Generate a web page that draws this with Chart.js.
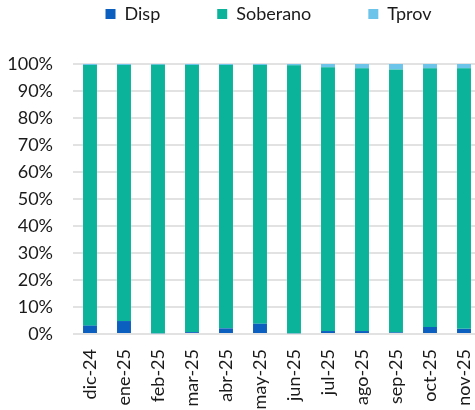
<!DOCTYPE html>
<html>
<head>
<meta charset="utf-8">
<script src="https://cdn.jsdelivr.net/npm/chart.js@4/dist/chart.umd.min.js"></script>
<style>
html,body{margin:0;padding:0;background:#fff;overflow:hidden;width:475px;height:410px;}
#wrap{position:absolute;left:0;top:0;width:481px;height:410px;}
</style>
</head>
<body>
<div id="wrap"><canvas id="c" width="481" height="410"></canvas></div>
<script>
const categories = ["dic-24","ene-25","feb-25","mar-25","abr-25","may-25","jun-25","jul-25","ago-25","sep-25","oct-25","nov-25"];
const disp  = [3.1, 4.8, 0.3, 0.7, 2.1, 3.8, 0.3, 1.1, 1.1, 0.6, 2.6, 1.9];
const tprov = [0.4, 0.4, 0.3, 0.4, 0.4, 0.4, 0.5, 1.2, 1.6, 2.0, 1.6, 1.6];
const soberano = disp.map((d, i) => +(100 - d - tprov[i]).toFixed(1));
const yTicks = [0,10,20,30,40,50,60,70,80,90,100];

const FONT = "Lato";
const LEG_PAD = 57;
const legendLayoutPlugin = {
  id: 'legendLayout',
  beforeInit(chart) {
    const fit = chart.legend.fit;
    chart.legend.fit = function () {
      fit.bind(chart.legend)();
      this.height = 64;
    };
  },
  afterLayout(chart) {
    const lg = chart.legend;
    lg.top = 5 - LEG_PAD;
    lg.left += 28;
    lg.right += 28;
  }
};

new Chart(document.getElementById('c'), {
  type: 'bar',
  data: {
    labels: categories,
    datasets: [
      { label: 'Disp', data: disp, backgroundColor: '#0B5FBE', borderWidth: 0 },
      { label: 'Soberano', data: soberano, backgroundColor: '#0BB39A', borderWidth: 0 },
      { label: 'Tprov', data: tprov, backgroundColor: '#6DC4EA', borderWidth: 0 }
    ]
  },
  options: {
    responsive: false,
    animation: false,
    layout: { padding: 0 },
    datasets: { bar: { categoryPercentage: 1.0, barPercentage: 0.41 } },
    plugins: {
      legend: {
        position: 'top',
        align: 'center',
        labels: {
          boxWidth: 10, boxHeight: 10, padding: LEG_PAD,
          color: '#1a1a1a',
          font: { family: FONT, size: 18 }
        }
      },
      tooltip: { enabled: false }
    },
    scales: {
      x: {
        stacked: true,
        grid: { display: false, drawTicks: false },
        border: { display: false },
        ticks: {
          minRotation: 90, maxRotation: 90, padding: 15,
          color: '#1a1a1a', font: { family: FONT, size: 18 }
        },
        afterFit(s) { s.height = 76; s.paddingLeft = 0; s.paddingRight = 0; }
      },
      y: {
        stacked: true,
        min: 0, max: 100,
        afterBuildTicks(s) { s.ticks = yTicks.map(v => ({ value: v })); },
        grid: { color: '#e2e2e2', lineWidth: 2, drawTicks: false },
        border: { display: false },
        ticks: {
          padding: 20,
          color: '#1a1a1a', font: { family: FONT, size: 18 },
          callback: v => v + '%'
        },
        afterFit(s) { s.width = 73; s.paddingTop = 0; s.paddingBottom = 0; }
      }
    }
  },
  plugins: [legendLayoutPlugin]
});
</script>
</body>
</html>
